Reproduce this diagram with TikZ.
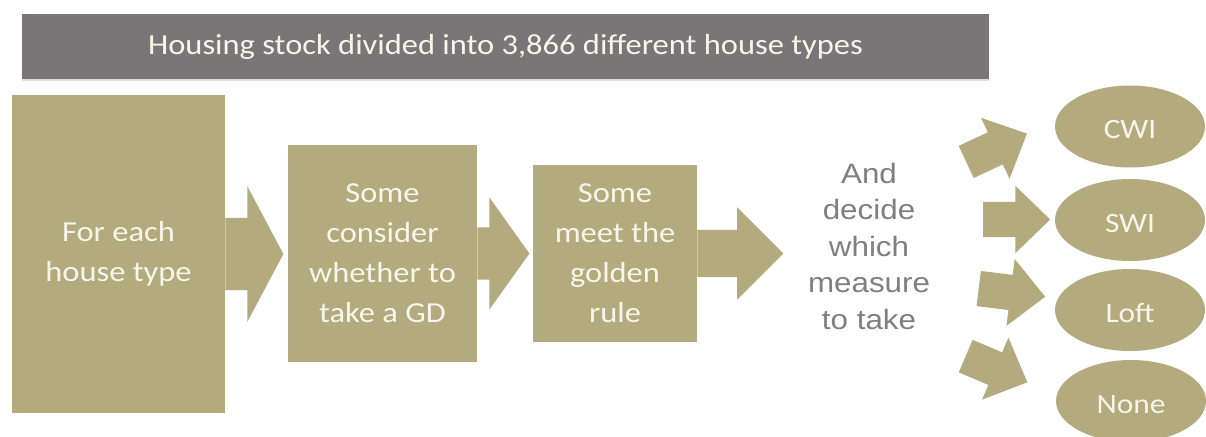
\documentclass[tikz,border=0pt]{standalone}
\usepackage{fontspec}
\setmainfont{Carlito}[FakeStretch=1.12]
\newfontfamily\arialfont{Liberation Sans}[FakeStretch=1.12]
\usetikzlibrary{shapes.geometric,shapes.arrows,shadows}
\definecolor{tan}{HTML}{B3AA7E}
\definecolor{slate}{HTML}{7A7677}
\definecolor{cream}{HTML}{F8F5EA}
\definecolor{textgray}{HTML}{7F7F7F}

\begin{document}
\begin{tikzpicture}[x=1pt,y=-1pt,
  box/.style={shape=rectangle,fill=tan,text=cream,align=center,font=\fontsize{29}{40}\selectfont},
  oval/.style={shape=ellipse,fill=tan,text=cream,minimum width=150pt,minimum height=82pt,text height=24pt,text depth=0pt,font=\fontsize{28}{34}\selectfont},
  blockarrow/.style={shape=single arrow,fill=tan,anchor=tail,inner xsep=0pt,minimum width=0pt},
  smallarrow/.style={blockarrow,minimum height=67pt,inner ysep=17.5pt,single arrow head extend=16pt,single arrow tip angle=88}]
\useasboundingbox (0,0) rectangle (1206,436);
\node[shape=rectangle,fill=slate,text=cream,minimum width=967pt,minimum height=64pt,font=\fontsize{29}{34}\selectfont,drop shadow={shadow xshift=0pt,shadow yshift=-2pt,opacity=0.25}] (0) at (505.5,46.5) {Housing stock divided into 3,866 different house types};
\node[box,minimum width=213pt,minimum height=318pt] (1) at (118.5,254) {For each\\house type};
\node[box,minimum width=189pt,minimum height=217pt] (2) at (382.5,253.5) {Some\\consider\\whether to\\take a GD};
\node[box,minimum width=164pt,minimum height=177pt] (3) at (615,253.5) {Some\\meet the\\golden\\rule};
\node[text=textgray,align=center,font=\arialfont\fontsize{28}{36.5}\selectfont] (4) at (869,246) {And\\decide\\which\\measure\\to take};
\node[oval] (5) at (1130,126.5) {CWI};
\node[oval] (6) at (1130,220) {SWI};
\node[oval] (7) at (1130,310) {Loft};
\node[oval] (8) at (1131,401) {None};

\node[blockarrow,minimum height=58pt,inner ysep=36pt,single arrow head extend=31.5pt,single arrow tip angle=124] (a1) at (1.east) {};
\node[blockarrow,minimum height=52pt,inner ysep=26pt,single arrow head extend=30pt,single arrow tip angle=109] (a2) at (2.east) {};
\node[blockarrow,minimum height=86pt,inner ysep=23.5pt,single arrow head extend=22.5pt,single arrow tip angle=90] (a3) at (3.east) {};
\node[smallarrow,rotate=25] (a5) at (966,162) {};
\node[smallarrow] (a6) at (983,219.5) {};
\node[smallarrow,rotate=-7] (a7) at (978.5,288.5) {};
\node[smallarrow,rotate=-23] (a8) at (965.5,356) {};
\end{tikzpicture}
\end{document}
